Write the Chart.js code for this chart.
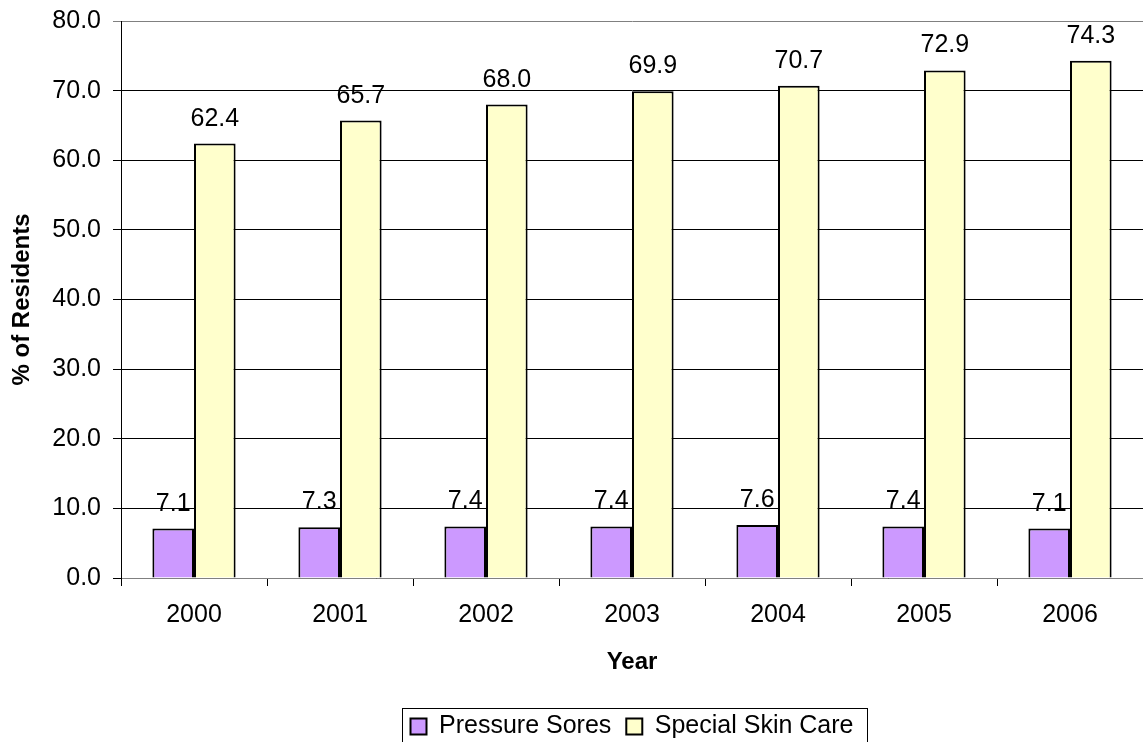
<!DOCTYPE html>
<html lang="en">
<head>
  <meta charset="UTF-8" />
  <title>Pressure Sores and Special Skin Care</title>
  <script src="https://cdn.jsdelivr.net/npm/chart.js"></script>
  <style>
    body { margin: 0; padding: 0; background: #fff; }
    #wrap { width: 1143px; height: 742px; }
  </style>
</head>
<body>
  <div id="wrap"><canvas id="barChart" width="1143" height="742"></canvas></div>

  <script>
    const years = ['2000', '2001', '2002', '2003', '2004', '2005', '2006'];
    const pressureSores = [7.1, 7.3, 7.4, 7.4, 7.6, 7.4, 7.1];
    const specialSkinCare = [62.4, 65.7, 68.0, 69.9, 70.7, 72.9, 74.3];

    const FONT = "'Liberation Sans', Arial, sans-serif";

    // value labels above each bar
    const valueLabels = {
      id: 'valueLabels',
      afterDatasetsDraw(chart) {
        const ctx = chart.ctx;
        ctx.save();
        ctx.font = '25px ' + FONT;
        ctx.fillStyle = '#000';
        ctx.textAlign = 'center';
        ctx.textBaseline = 'alphabetic';
        chart.data.datasets.forEach((ds, i) => {
          chart.getDatasetMeta(i).data.forEach((bar, j) => {
            ctx.fillText(ds.data[j].toFixed(1), bar.x, bar.y - 18);
          });
        });
        ctx.restore();
      }
    };

    // centre the legend under the plot area, and frame it
    const legendBox = {
      id: 'legendBox',
      afterLayout(chart) {
        chart.legend.left = chart.chartArea.left;
        chart.legend.right = chart.chartArea.right;
      },
      afterDraw(chart) {
        const boxes = chart.legend.legendHitBoxes;
        if (!boxes || !boxes.length) return;
        const left = Math.min(...boxes.map(b => b.left)) - 9;
        const right = Math.max(...boxes.map(b => b.left + b.width)) + 13;
        const mid = boxes[0].top + boxes[0].height / 2;
        const top = mid - 19;
        const ctx = chart.ctx;
        ctx.save();
        ctx.strokeStyle = '#000';
        ctx.lineWidth = 1;
        ctx.strokeRect(Math.round(left) + 0.5, Math.round(top) + 0.5, Math.round(right - left), 60);
        ctx.restore();
      }
    };

    new Chart(document.getElementById('barChart'), {
      type: 'bar',
      data: {
        labels: years,
        datasets: [
          {
            label: 'Pressure Sores',
            data: pressureSores,
            backgroundColor: '#CC99FF',
            borderColor: '#000',
            borderWidth: 2
          },
          {
            label: 'Special Skin Care',
            data: specialSkinCare,
            backgroundColor: '#FFFFCC',
            borderColor: '#000',
            borderWidth: 2
          }
        ]
      },
      options: {
        responsive: false,
        animation: false,
        layout: { padding: { top: 21, right: -3, bottom: -7, left: 0 } },
        datasets: {
          bar: { categoryPercentage: 0.57, barPercentage: 1.0 }
        },
        plugins: {
          legend: {
            position: 'bottom',
            labels: {
              font: { size: 25, family: FONT },
              color: '#000',
              boxWidth: 16,
              boxHeight: 16,
              padding: 15
            }
          },
          tooltip: { enabled: false }
        },
        scales: {
          x: {
            afterFit: s => { s.height = 121; },
            grid: {
              offset: true,
              drawOnChartArea: false,
              drawTicks: true,
              tickLength: 8,
              color: '#000'
            },
            border: { color: '#808080', width: 1 },
            ticks: {
              font: { size: 25, family: FONT },
              color: '#000',
              padding: 14
            },
            title: {
              display: true,
              text: 'Year',
              font: { size: 24, weight: 'bold', family: FONT },
              color: '#000',
              padding: { top: 0, bottom: 22 }
            }
          },
          y: {
            min: 0,
            max: 80,
            afterFit: s => { s.width = 121; s.paddingTop = 0; s.paddingBottom = 0; },
            ticks: {
              stepSize: 10,
              font: { size: 25, family: FONT },
              color: '#000',
              padding: 12,
              callback: v => v.toFixed(1)
            },
            grid: {
              color: ctx => (ctx.tick && ctx.tick.value === 80) ? '#808080' : '#000',
              tickLength: 8,
              lineWidth: 1
            },
            border: { color: '#000', width: 1 },
            title: {
              display: true,
              text: '% of Residents',
              font: { size: 24, weight: 'bold', family: FONT },
              color: '#000',
              padding: { top: 8, bottom: 4 }
            }
          }
        }
      },
      plugins: [valueLabels, legendBox]
    });
  </script>
</body>
</html>
